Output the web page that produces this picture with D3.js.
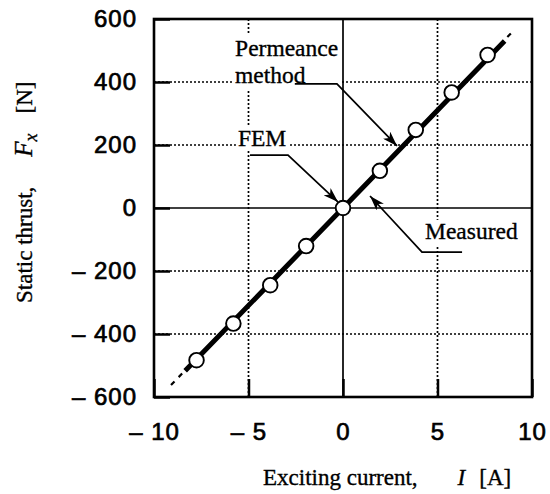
<!DOCTYPE html>
<html>
<head>
<meta charset="utf-8">
<script src="https://cdn.jsdelivr.net/npm/d3@7"></script>
<style>
  body { margin: 0; background: #fff; }
  svg { display: block; }
</style>
</head>
<body>
<div id="chart"></div>
<script>
// ---------------- data ----------------
var measuredI = [-7.75, -5.8, -3.85, -1.95, 0, 1.95, 3.85, 5.75, 7.65];
var measuredF = [-483, -367, -245, -121, 0, 118, 248, 367, 486];
var femI = [-8.35, 0, 8.55];
var femF = [-517, 0, 530];
var permI = [-9.1, 9.1];
var permF = [-562, 568];
var xTicks = [-10, -5, 0, 5, 10];
var yTicks = [-600, -400, -200, 0, 200, 400, 600];
var xGrid = [-5, 5];
var yGrid = [-400, -200, 200, 400];

// ---------------- setup ----------------
var W = 550, H = 494;
var margin = {top: 19, right: 18, bottom: 97, left: 154};
var width = W - margin.left - margin.right,
    height = H - margin.top - margin.bottom;

var svg = d3.select("#chart").append("svg")
    .attr("width", W).attr("height", H);
var g = svg.append("g")
    .attr("transform", "translate(" + margin.left + "," + margin.top + ")");

var x = d3.scaleLinear().domain([-10, 10]).range([0, width]);
var y = d3.scaleLinear().domain([-600, 600]).range([height, 0]);

// grid
g.selectAll(".hgrid").data(yGrid).enter().append("line")
    .attr("x1", 0).attr("x2", width)
    .attr("y1", function (d) { return y(d); }).attr("y2", function (d) { return y(d); })
    .attr("stroke", "#000").attr("stroke-width", 1.7).attr("stroke-dasharray", "2,2");
g.selectAll(".vgrid").data(xGrid).enter().append("line")
    .attr("y1", 0).attr("y2", height)
    .attr("x1", function (d) { return x(d); }).attr("x2", function (d) { return x(d); })
    .attr("stroke", "#000").attr("stroke-width", 1.7).attr("stroke-dasharray", "2,2");

// zero lines
g.append("line").attr("x1", 0).attr("x2", width).attr("y1", y(0)).attr("y2", y(0))
    .attr("stroke", "#000").attr("stroke-width", 1.7);
g.append("line").attr("y1", 0).attr("y2", height).attr("x1", x(0)).attr("x2", x(0))
    .attr("stroke", "#000").attr("stroke-width", 1.7);

// ---------------- annotations ----------------
var serif = '"Liberation Serif", "Times New Roman", serif';
function label(lines, xi, yf, lineGap) {
    var grp = g.append("g");
    var bg = grp.append("rect").attr("fill", "#fff");
    var t = grp.append("text")
        .attr("font-family", serif).attr("font-size", 23.5)
        .attr("stroke", "#000").attr("stroke-width", 0.35)
        .attr("x", x(xi)).attr("y", y(yf));
    lines.forEach(function (s, i) {
        t.append("tspan").attr("x", x(xi)).attr("dy", i ? lineGap : 0).text(s);
    });
    return {grp: grp, bg: bg, t: t};
}

var perm = label(["Permeance", "method"], -5.71, 483, 27);
var bb = perm.t.node().getBBox();
perm.bg.attr("x", bb.x - 3).attr("y", bb.y).attr("width", x(0) - bb.x + 2).attr("height", bb.height + 2);

var fem = label(["FEM"], -5.56, 197, 0);
bb = fem.t.node().getBBox();
fem.bg.attr("x", bb.x - 2).attr("y", bb.y + 2).attr("width", bb.width + 4).attr("height", bb.height - 2);

var meas = label(["Measured"], 4.34, -98, 0);
bb = meas.t.node().getBBox();
meas.bg.attr("x", bb.x - 2).attr("y", bb.y + 2).attr("width", bb.width + 4).attr("height", bb.height);

// leader lines (data units)
var leaders = [
    [[-2.55, 394], [-0.32, 394], [2.86, 197]],
    [[-4.92, 168], [-2.91, 168], [-0.26, 19]],
    [[6.3, -140], [4.18, -140], [1.43, 38]]
];
svg.append("defs").append("marker")
    .attr("id", "arr").attr("viewBox", "0 0 15 10")
    .attr("refX", 15).attr("refY", 5)
    .attr("markerWidth", 15).attr("markerHeight", 10)
    .attr("markerUnits", "userSpaceOnUse")
    .attr("orient", "auto")
    .append("path").attr("d", "M0,0 L15,5 L0,10 L4,5 Z").attr("fill", "#000");

var pline = d3.line().x(function (d) { return x(d[0]); }).y(function (d) { return y(d[1]); });
g.selectAll(".leader").data(leaders).enter().append("path")
    .attr("d", pline).attr("fill", "none")
    .attr("stroke", "#000").attr("stroke-width", 1.7)
    .attr("marker-end", "url(#arr)");

// ---------------- series ----------------
var line = d3.line()
    .x(function (d) { return x(d[0]); })
    .y(function (d) { return y(d[1]); });

g.append("path").datum(d3.zip(permI, permF))
    .attr("d", line).attr("fill", "none")
    .attr("stroke", "#000").attr("stroke-width", 2.2).attr("stroke-dasharray", "5,6");

g.append("path").datum(d3.zip(femI, femF))
    .attr("d", line).attr("fill", "none")
    .attr("stroke", "#000").attr("stroke-width", 5);

g.selectAll(".pt").data(d3.zip(measuredI, measuredF)).enter().append("circle")
    .attr("cx", function (d) { return x(d[0]); })
    .attr("cy", function (d) { return y(d[1]); })
    .attr("r", 7.3).attr("fill", "#fff")
    .attr("stroke", "#000").attr("stroke-width", 1.9);

// ---------------- axes ----------------
function fmt(d) { return d < 0 ? "\u2013 " + Math.abs(d) : String(d); }

var yAxis = g.append("g").call(
    d3.axisLeft(y).tickValues(yTicks).tickSize(-16).tickPadding(17).tickFormat(fmt));
var xAxis = g.append("g").attr("transform", "translate(0," + height + ")").call(
    d3.axisBottom(x).tickValues(xTicks).tickSize(-18).tickPadding(26).tickFormat(fmt));
[yAxis, xAxis].forEach(function (a) {
    a.select(".domain").remove();
    a.selectAll(".tick line").attr("stroke-width", 2.5);
    a.selectAll("text")
        .attr("font-family", '"Liberation Sans", Arial, sans-serif')
        .attr("font-size", 24).attr("letter-spacing", 1).attr("fill", "#000")
        .attr("stroke", "#000").attr("stroke-width", 0.7);
});

// frame
g.append("rect").attr("x", 0).attr("y", 0).attr("width", width).attr("height", height)
    .attr("fill", "none").attr("stroke", "#000").attr("stroke-width", 2.6);

// axis titles
var xt = svg.append("text")
    .attr("font-family", serif).attr("font-size", 23)
    .attr("stroke", "#000").attr("stroke-width", 0.35)
    .attr("x", 263).attr("y", 485);
xt.append("tspan").text("Exciting current,");
xt.append("tspan").attr("dx", 40).attr("font-style", "italic").text("I");
xt.append("tspan").attr("dx", 14).text("[A]");

var yt = svg.append("text")
    .attr("font-family", serif).attr("font-size", 23)
    .attr("stroke", "#000").attr("stroke-width", 0.35)
    .attr("transform", "translate(32,303) rotate(-90)");
yt.append("tspan").text("Static thrust,");
yt.append("tspan").attr("dx", 30).attr("font-style", "italic").attr("font-size", 25).text("F");
yt.append("tspan").attr("font-style", "italic").attr("font-size", 18).attr("dy", 5).text("x");
yt.append("tspan").attr("dx", 20).attr("dy", -5).text("[N]");
</script>
</body>
</html>
